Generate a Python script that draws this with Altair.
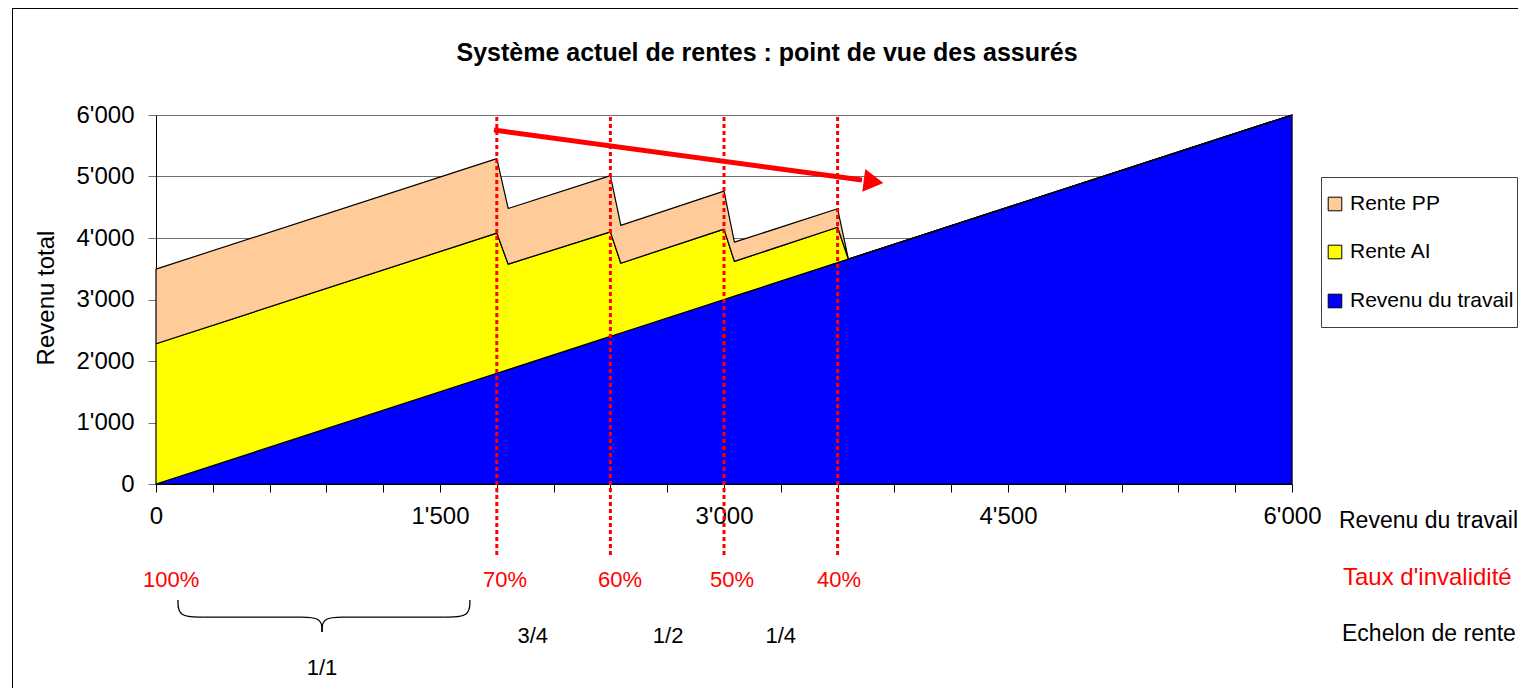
import altair as alt
import pandas as pd

# ---------------- data ----------------
x_pts = [0, 1800, 1860, 2400, 2455, 3000, 3055, 3600, 3657, 6000]
revenu_travail = [0, 1800, 1860, 2400, 2455, 3000, 3055, 3600, 3657, 6000]
rente_ai = [2280, 2280, 1715, 1700, 1135, 1145, 565, 575, 0, 0]
rente_pp = [1215, 1210, 905, 915, 615, 618, 312, 300, 0, 0]

series = ["Rente PP", "Rente AI", "Revenu du travail"]
colors = ["#FFCC99", "#FFFF00", "#0000FF"]

thresholds = [1800, 2400, 3000, 3600]
taux_labels = ["100%", "70%", "60%", "50%", "40%"]
taux_x = [80, 1843, 2451, 3042, 3607]
echelon_labels = ["1/1", "3/4", "1/2", "1/4"]
echelon_x = [877, 1990, 2705, 3300]

# arrow (data units)
arrow_start = (1785, 5756)
arrow_end = (3729, 4943)
arrow_head = (3790, 4915)

FONT = "Liberation Sans"
W, H = 1136, 369

# ---------------- build stacked table ----------------
rows = []
for i, x in enumerate(x_pts):
    b = revenu_travail[i]
    a = rente_ai[i]
    p = rente_pp[i]
    rows.append({"x": x, "series": "Revenu du travail", "lo": 0, "hi": b})
    rows.append({"x": x, "series": "Rente AI", "lo": b, "hi": b + a})
    rows.append({"x": x, "series": "Rente PP", "lo": b + a, "hi": b + a + p})
df = pd.DataFrame(rows)

fmt = "replace(format(datum.value, ','), ',', \"'\")"

xscale = alt.Scale(domain=[0, 6000], nice=False, zero=False)
yscale = alt.Scale(domain=[0, 6000], nice=False)
cscale = alt.Scale(domain=series, range=colors)

areas = alt.Chart(df).mark_area(stroke="black", strokeWidth=1.2, strokeJoin="round").encode(
    x=alt.X("x:Q", scale=xscale,
            axis=alt.Axis(values=list(range(0, 6001, 300)),
                          labelExpr="datum.value % 1500 == 0 ? " + fmt + " : ''",
                          title=None, grid=False, tickSize=8, labelPadding=12,
                          labelFontSize=24, labelFont=FONT, labelColor="black",
                          domainColor="black", tickColor="black", labelOverlap=False,
                          labelFlush=False)),
    y=alt.Y("hi:Q", scale=yscale,
            axis=alt.Axis(values=list(range(0, 6001, 1000)), labelExpr=fmt,
                          title=None, grid=True, gridColor="#707070", gridWidth=1,
                          tickSize=8, tickColor="#707070", labelPadding=14,
                          labelFontSize=24, labelFont=FONT, labelColor="black",
                          domainColor="black")),
    y2="lo:Q",
    color=alt.Color("series:N", scale=cscale, legend=None),
)

rules = alt.Chart(pd.DataFrame({"x": thresholds})).mark_rule(
    color="#FF0000", strokeWidth=3, strokeDash=[4, 3]
).encode(x="x:Q", y=alt.value(2), y2=alt.value(440))

arrow_df = pd.DataFrame({"x": [arrow_start[0]], "y": [arrow_start[1]],
                         "x2": [arrow_end[0]], "y2": [arrow_end[1]]})
arrow_line = alt.Chart(arrow_df).mark_rule(color="#FF0000", strokeWidth=5).encode(
    x="x:Q", y="y:Q", x2="x2:Q", y2="y2:Q")
arrow_tip = alt.Chart(pd.DataFrame({"x": [arrow_head[0]], "y": [arrow_head[1]]})).mark_point(
    shape="triangle-right", filled=True, color="#FF0000", size=520, angle=7.7, opacity=1
).encode(x="x:Q", y="y:Q")

# brace under the 1/1 range
brace_pts = [
    (0, 0, 116, -1886), (0, 1, 116, -2163), (0, 2, 250, -2163),
    (1, 0, 250, -2163), (1, 1, 745, -2163),
    (2, 0, 745, -2163), (2, 1, 877, -2163), (2, 2, 877, -2407),
    (3, 0, 877, -2407), (3, 1, 877, -2163), (3, 2, 1009, -2163),
    (4, 0, 1009, -2163), (4, 1, 1524, -2163),
    (5, 0, 1524, -2163), (5, 1, 1658, -2163), (5, 2, 1658, -1886),
]
brace_df = pd.DataFrame(brace_pts, columns=["seg", "i", "x", "y"])
brace = alt.Chart(brace_df).mark_line(color="black", strokeWidth=1.3, interpolate="basis").encode(
    x="x:Q", y="y:Q", detail="seg:N", order="i:Q")

taux = alt.Chart(pd.DataFrame({"x": taux_x, "t": taux_labels})).mark_text(
    color="#FF0000", fontSize=22, font=FONT, baseline="middle", align="center"
).encode(x="x:Q", y=alt.value(465), text="t:N")

echelon = alt.Chart(pd.DataFrame({"x": echelon_x, "t": echelon_labels,
                                  "py": [553, 521, 521, 521]})).mark_text(
    color="black", fontSize=22, font=FONT, baseline="middle", align="center"
).encode(x="x:Q", y=alt.Y("py:Q", scale=None), text="t:N")

# ---------------- legend (drawn with the same colour scale) ----------------
leg_df = pd.DataFrame({"series": series, "py": [89, 137, 186]})
leg_frame = alt.Chart(pd.DataFrame({"a": [0]})).mark_rect(
    fill="white", stroke="#404040", strokeWidth=1
).encode(x=alt.value(1165.5), x2=alt.value(1361.5), y=alt.value(62.5), y2=alt.value(212.5))
leg_sym = alt.Chart(leg_df).mark_point(
    shape="square", filled=True, size=185, stroke="black", strokeWidth=1, opacity=1
).encode(x=alt.value(1179), y=alt.Y("py:Q", scale=None),
         fill=alt.Color("series:N", scale=cscale, legend=None))
leg_txt = alt.Chart(leg_df).mark_text(
    font=FONT, fontSize=21, align="left", baseline="middle", color="black"
).encode(x=alt.value(1194), y=alt.Y("py:Q", scale=None), text="series:N")


def label(txt, px, py, **kw):
    return alt.Chart(pd.DataFrame({"t": [txt]})).mark_text(font=FONT, **kw).encode(
        text="t:N", x=alt.value(px), y=alt.value(py))


title = label("Système actuel de rentes : point de vue des assurés", 611, -62,
              fontSize=25, fontWeight="bold", align="center", baseline="middle", color="black")
ytitle = label("Revenu total", -109, 183, fontSize=24, angle=270, align="center",
               baseline="middle", color="black")
xend = label("Revenu du travail", 1183, 406, fontSize=23, align="left", baseline="middle", color="black")
tauxlab = label("Taux d'invalidité", 1187, 463, fontSize=24, align="left", baseline="middle", color="#FF0000")
echlab = label("Echelon de rente", 1186, 519, fontSize=23, align="left", baseline="middle", color="black")

frame_top = alt.Chart(pd.DataFrame({"a": [0]})).mark_rule(color="black", strokeWidth=1).encode(
    x=alt.value(-144), x2=alt.value(1370), y=alt.value(-106.5))
frame_left = alt.Chart(pd.DataFrame({"a": [0]})).mark_rule(color="black", strokeWidth=1).encode(
    x=alt.value(-143.5), y=alt.value(-107), y2=alt.value(575))

chart = alt.layer(
    areas, rules, arrow_line, arrow_tip, brace, taux, echelon,
    leg_frame, leg_sym, leg_txt,
    title, ytitle, xend, tauxlab, echlab, frame_top, frame_left
).properties(
    width=W, height=H,
    autosize=alt.AutoSizeParams(type="none"),
    padding={"left": 148, "top": 107, "right": 226, "bottom": 204},
).configure_view(stroke=None).configure(font=FONT)

chart.save("out.html", embed_options={"renderer": "svg", "actions": False})
